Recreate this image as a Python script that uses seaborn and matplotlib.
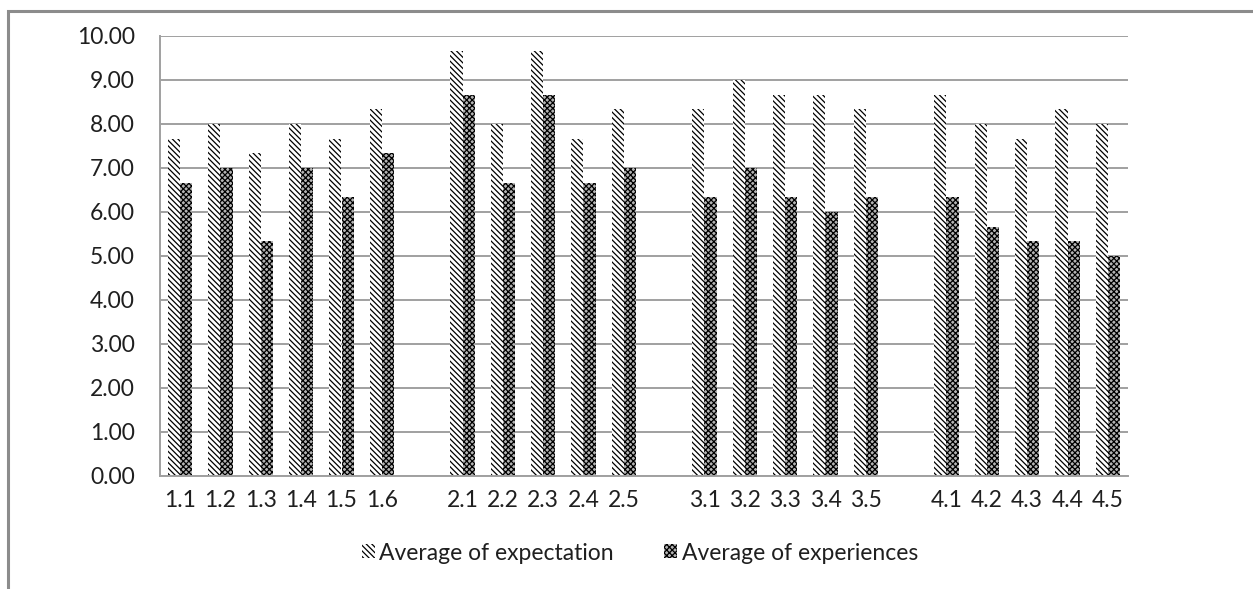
import matplotlib
matplotlib.use("Agg")
import matplotlib.pyplot as plt
from matplotlib.patches import Rectangle, Patch
import numpy as np
import pandas as pd
import seaborn as sns

# Item codes per section; empty slots separate the four sections
section_1 = ["1.1", "1.2", "1.3", "1.4", "1.5", "1.6"]
section_2 = ["2.1", "2.2", "2.3", "2.4", "2.5"]
section_3 = ["3.1", "3.2", "3.3", "3.4", "3.5"]
section_4 = ["4.1", "4.2", "4.3", "4.4", "4.5"]

items = section_1 + section_2 + section_3 + section_4

expectation = [7.67, 8.00, 7.33, 8.00, 7.67, 8.33,
               9.67, 8.00, 9.67, 7.67, 8.33,
               8.33, 9.00, 8.67, 8.67, 8.33,
               8.67, 8.00, 7.67, 8.33, 8.00]
experiences = [6.67, 7.00, 5.33, 7.00, 6.33, 7.33,
               8.67, 6.67, 8.67, 6.67, 7.00,
               6.33, 7.00, 6.33, 6.00, 6.33,
               6.33, 5.67, 5.33, 5.33, 5.00]

series_names = ["Average of expectation", "Average of experiences"]
y_ticks = np.arange(0, 10.01, 1.0)

# Category order with blank slots between sections
order = section_1 + ["_gap1"] + section_2 + ["_gap2"] + section_3 + ["_gap3"] + section_4
tick_text = ["" if o.startswith("_gap") else o for o in order]

df = pd.DataFrame({
    "item": items * 2,
    "value": expectation + experiences,
    "series": [series_names[0]] * len(items) + [series_names[1]] * len(items),
})

sns.set_style("white")
plt.rcParams["font.family"] = ["Lato", "DejaVu Sans"]
plt.rcParams["hatch.linewidth"] = 0.9

fig = plt.figure(figsize=(12.53, 5.89), dpi=100)
ax = fig.add_axes([160 / 1253, 1 - 476 / 589, (1128 - 160) / 1253, (476 - 36) / 589])

sns.barplot(data=df, x="item", y="value", hue="series", order=order,
            hue_order=series_names, width=0.6, ax=ax, legend=False,
            palette=["white", "white"], edgecolor="black", linewidth=0,
            errorbar=None)

hatches = {series_names[0]: "\\" * 6, series_names[1]: "x" * 6}
faces = {series_names[0]: "white", series_names[1]: "#b4b4b4"}
for container, name in zip(ax.containers, series_names):
    for bar in container:
        bar.set_hatch(hatches[name])
        bar.set_edgecolor("black")
        bar.set_linewidth(0)
        bar.set_facecolor(faces[name])

text_color = "#1f1f1f"
grid_color = "#a0a0a0"
ax.set_ylim(0, 10)
ax.set_xlim(-0.5, len(order) - 0.5)
ax.set_yticks(y_ticks)
ax.set_yticklabels([f"{v:.2f}" for v in y_ticks], fontsize=16.5, color=text_color)
ax.yaxis.grid(True, color=grid_color, linewidth=1.4)
ax.set_axisbelow(True)

# Category labels centred in slots, tick marks on slot boundaries
ax.set_xticks(np.arange(len(order)))
ax.set_xticklabels(tick_text, fontsize=16.5, color=text_color)
ax.tick_params(axis="x", length=0, pad=10)
ax.set_xticks(np.arange(len(order) + 1) - 0.5, minor=True)
ax.tick_params(axis="x", which="minor", length=9, width=1.4, color=grid_color, direction="out")
ax.tick_params(axis="y", length=10, width=1.4, color=grid_color, direction="out", pad=8)
ax.set_xlabel("")
ax.set_ylabel("")

for side in ["top", "right"]:
    ax.spines[side].set_visible(False)
for side in ["left", "bottom"]:
    ax.spines[side].set_color(grid_color)
    ax.spines[side].set_linewidth(1.4)

handles = [Patch(facecolor=faces[n], edgecolor="black", linewidth=0, hatch=hatches[n])
           for n in series_names]
fig.legend(handles, series_names, loc="center", bbox_to_anchor=(640 / 1253, 1 - 553 / 589),
           ncol=2, frameon=False, fontsize=16.5, handlelength=0.55, handleheight=0.55,
           handletextpad=0.2, columnspacing=2.2, labelcolor=text_color)

# Chart area border
fig.patches.append(Rectangle((8 / 1253, -0.2), 1.2, 1.2 - 11 / 589,
                             transform=fig.transFigure, fill=False,
                             edgecolor="#8c8c8c", linewidth=2.2))

fig.savefig("out.png", dpi=100)
